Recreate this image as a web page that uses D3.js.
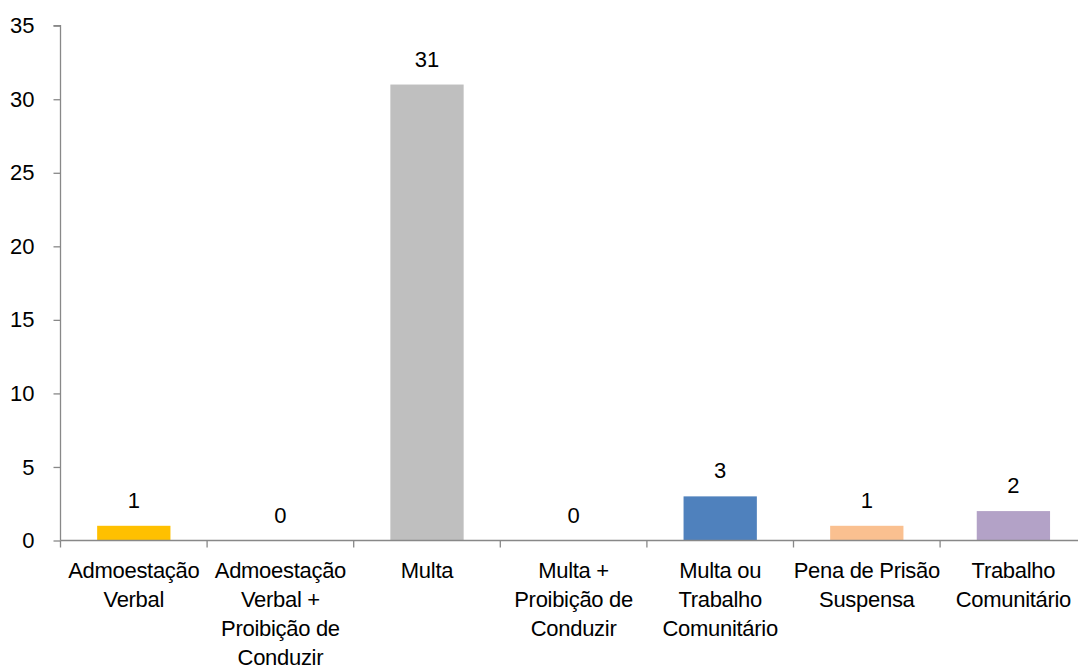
<!DOCTYPE html>
<html>
<head>
<meta charset="utf-8">
<script src="https://cdn.jsdelivr.net/npm/d3@7"></script>
<style>
  html, body { margin: 0; padding: 0; background: #fff; }
  svg { display: block; font-family: "Liberation Sans", Arial, sans-serif; }
</style>
</head>
<body>
<svg id="chart" width="1078" height="670"></svg>
<script>
// categories as shown on the x axis, with the line breaks used in the picture
const categories = [
  'Admoestação Verbal',
  'Admoestação Verbal + Proibição de Conduzir',
  'Multa',
  'Multa + Proibição de Conduzir',
  'Multa ou Trabalho Comunitário',
  'Pena de Prisão Suspensa',
  'Trabalho Comunitário'
];
const labelLines = [
  ['Admoestação', 'Verbal'],
  ['Admoestação', 'Verbal +', 'Proibição de', 'Conduzir'],
  ['Multa'],
  ['Multa +', 'Proibição de', 'Conduzir'],
  ['Multa ou', 'Trabalho', 'Comunitário'],
  ['Pena de Prisão', 'Suspensa'],
  ['Trabalho', 'Comunitário']
];
const values = [1, 0, 31, 0, 3, 1, 2];
const barColors = ['#FFC000', '#BFBFBF', '#BFBFBF', '#BFBFBF', '#4F81BD', '#FAC090', '#B3A2C7'];
const yTicks = [0, 5, 10, 15, 20, 25, 30, 35];

const svg = d3.select('#chart');
const axisColor = '#888888';
const fontSize = '22px';
const x0 = 60.5, y0 = 540.5, yTop = 25.7, step = 146.6;

const x = d3.scaleBand()
  .domain(categories)
  .range([x0, x0 + step * categories.length])
  .paddingInner(0.5)
  .paddingOuter(0.25);

const y = d3.scaleLinear().domain([0, 35]).range([y0, yTop]);

// y axis
const yAxis = svg.append('g')
  .attr('transform', 'translate(' + x0 + ',0)')
  .call(d3.axisLeft(y).tickValues(yTicks).tickSize(7).tickPadding(19));
yAxis.select('.domain').attr('stroke', axisColor).attr('stroke-width', 1.3)
  .attr('d', 'M-7,' + y(35) + 'H0V' + y0);
yAxis.selectAll('.tick line').attr('stroke', axisColor).attr('stroke-width', 1.3);
yAxis.selectAll('.tick text')
  .attr('fill', '#000')
  .style('font-size', fontSize)
  .style('font-family', '"Liberation Sans", Arial, sans-serif');

// bars
svg.append('g').selectAll('rect')
  .data(values)
  .enter()
  .append('rect')
  .attr('x', (d, i) => x(categories[i]))
  .attr('width', x.bandwidth())
  .attr('y', d => y(d))
  .attr('height', d => y0 - y(d))
  .attr('fill', (d, i) => barColors[i]);

// value labels
svg.append('g').selectAll('text')
  .data(values)
  .enter()
  .append('text')
  .attr('x', (d, i) => x(categories[i]) + x.bandwidth() / 2)
  .attr('y', d => y(d) - 18)
  .attr('text-anchor', 'middle')
  .style('font-size', fontSize)
  .attr('fill', '#000')
  .text(d => d);

// x axis line and boundary ticks
const gap = (x.step() - x.bandwidth()) / 2;
const bounds = categories.map(c => x(c) - gap).concat([x(categories[categories.length - 1]) + x.bandwidth() + gap]);
const xAxis = svg.append('g');
xAxis.append('line')
  .attr('x1', x0).attr('x2', bounds[bounds.length - 1])
  .attr('y1', y0).attr('y2', y0)
  .attr('stroke', axisColor).attr('stroke-width', 1.3);
xAxis.selectAll('.xt')
  .data(bounds)
  .enter()
  .append('line')
  .attr('x1', d => d).attr('x2', d => d)
  .attr('y1', y0).attr('y2', y0 + 7)
  .attr('stroke', axisColor).attr('stroke-width', 1.3);

// category labels
const lbl = xAxis.selectAll('.cat')
  .data(categories)
  .enter()
  .append('text')
  .attr('text-anchor', 'middle')
  .style('font-size', fontSize)
  .style('letter-spacing', '-0.3px')
  .attr('fill', '#000');
lbl.selectAll('tspan')
  .data((c, i) => labelLines[i].map(t => ({t: t, c: c})))
  .enter()
  .append('tspan')
  .attr('x', d => x(d.c) + x.bandwidth() / 2)
  .attr('y', (d, j) => 578 + j * 29)
  .text(d => d.t);
</script>
</body>
</html>
